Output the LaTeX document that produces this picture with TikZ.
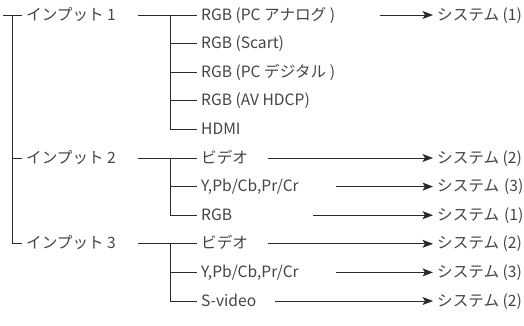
\documentclass[tikz,border=0pt]{standalone}
\usepackage{fontspec}
\setmainfont{Noto Sans CJK JP}
\usetikzlibrary{arrows.meta}
\definecolor{ln}{HTML}{2A2A2A}
\definecolor{tx}{HTML}{444444}
\tikzset{
  lbl/.style={anchor=west, inner xsep=4pt, inner ysep=0pt, text=tx,
    font=\fontsize{15.6}{17}\selectfont, text height=10.3pt, text depth=0pt},
  wire/.style={draw=ln, line width=0.95pt},
  arr/.style={wire, -{Stealth[length=10.5pt,width=8pt,inset=2.5pt]}},
}
\begin{document}
\begin{tikzpicture}[x=1pt,y=-1pt]
\useasboundingbox (0,0) rectangle (524,326);
\def\ra{15}\def\rb{43.6}\def\rc{72.2}\def\rd{100.8}\def\re{129.4}
\def\rf{158}\def\rg{186.6}\def\rh{215.2}\def\ri{243.8}\def\rj{272.4}\def\rk{301}
% inputs
\node[lbl] (in1) at (22,\ra) {インプット 1};
\node[lbl] (in2) at (22,\rf) {インプット 2};
\node[lbl] (in3) at (22,\ri) {インプット 3};
% children
\node[lbl] (c1) at (197,\ra) {RGB (PC アナログ )};
\node[lbl] (c2) at (197,\rb) {RGB (Scart)};
\node[lbl] (c3) at (197,\rc) {RGB (PC デジタル )};
\node[lbl] (c4) at (197,\rd) {RGB (AV HDCP)};
\node[lbl] (c5) at (197,\re) {HDMI};
\node[lbl] (c6) at (197,\rf) {ビデオ};
\node[lbl] (c7) at (197,\rg) {Y,Pb/Cb,Pr/Cr};
\node[lbl] (c8) at (197,\rh) {RGB};
\node[lbl] (c9) at (197,\ri) {ビデオ};
\node[lbl] (c10) at (197,\rj) {Y,Pb/Cb,Pr/Cr};
\node[lbl] (c11) at (197,\rk) {S-video};
% systems
\node[lbl] (s1) at (433,\ra) {システム (1)};
\node[lbl] (s6) at (433,\rf) {システム (2)};
\node[lbl] (s7) at (433,\rg) {システム\hspace{1.5pt} (3)};
\node[lbl] (s8) at (433,\rh) {システム\hspace{1.5pt} (1)};
\node[lbl] (s9) at (433,\ri) {システム (2)};
\node[lbl] (s10) at (433,\rj) {システム (3)};
\node[lbl] (s11) at (433,\rk) {システム (2)};
% trunk
\coordinate (t0) at (3,\ra);
\coordinate (t1) at (12,\ra);
\draw[wire] (t0) -- (in1.west);
\draw[wire] (t1) |- (in2.west);
\draw[wire] (t1) |- (in3.west);
% branch 1
\coordinate (b1) at (138,\ra);
\coordinate (v1) at (170,\ra);
\draw[wire] (b1) -- (c1.west);
\foreach \c in {c2,c3,c4,c5} \draw[wire] (v1) |- (\c.west);
% branch 2
\coordinate (b2) at (138,\rf);
\coordinate (v2) at (170,\rf);
\draw[wire] (b2) -- (c6.west);
\foreach \c in {c7,c8} \draw[wire] (v2) |- (\c.west);
% branch 3
\coordinate (b3) at (138,\ri);
\coordinate (v3) at (170,\ri);
\draw[wire] (b3) -- (c9.west);
\foreach \c in {c10,c11} \draw[wire] (v3) |- (\c.west);
% arrows
\coordinate (a1) at (380,\ra);
\coordinate (a6) at (268,\rf);
\coordinate (a7) at (336,\rg);
\coordinate (a8) at (313,\rh);
\coordinate (a9) at (268,\ri);
\coordinate (a10) at (336,\rj);
\coordinate (a11) at (275,\rk);
\draw[arr] (a1) -- (s1.west);
\draw[arr] (a6) -- (s6.west);
\draw[arr] (a7) -- (s7.west);
\draw[arr] (a8) -- (s8.west);
\draw[arr] (a9) -- (s9.west);
\draw[arr] (a10) -- (s10.west);
\draw[arr] (a11) -- (s11.west);
\end{tikzpicture}
\end{document}
